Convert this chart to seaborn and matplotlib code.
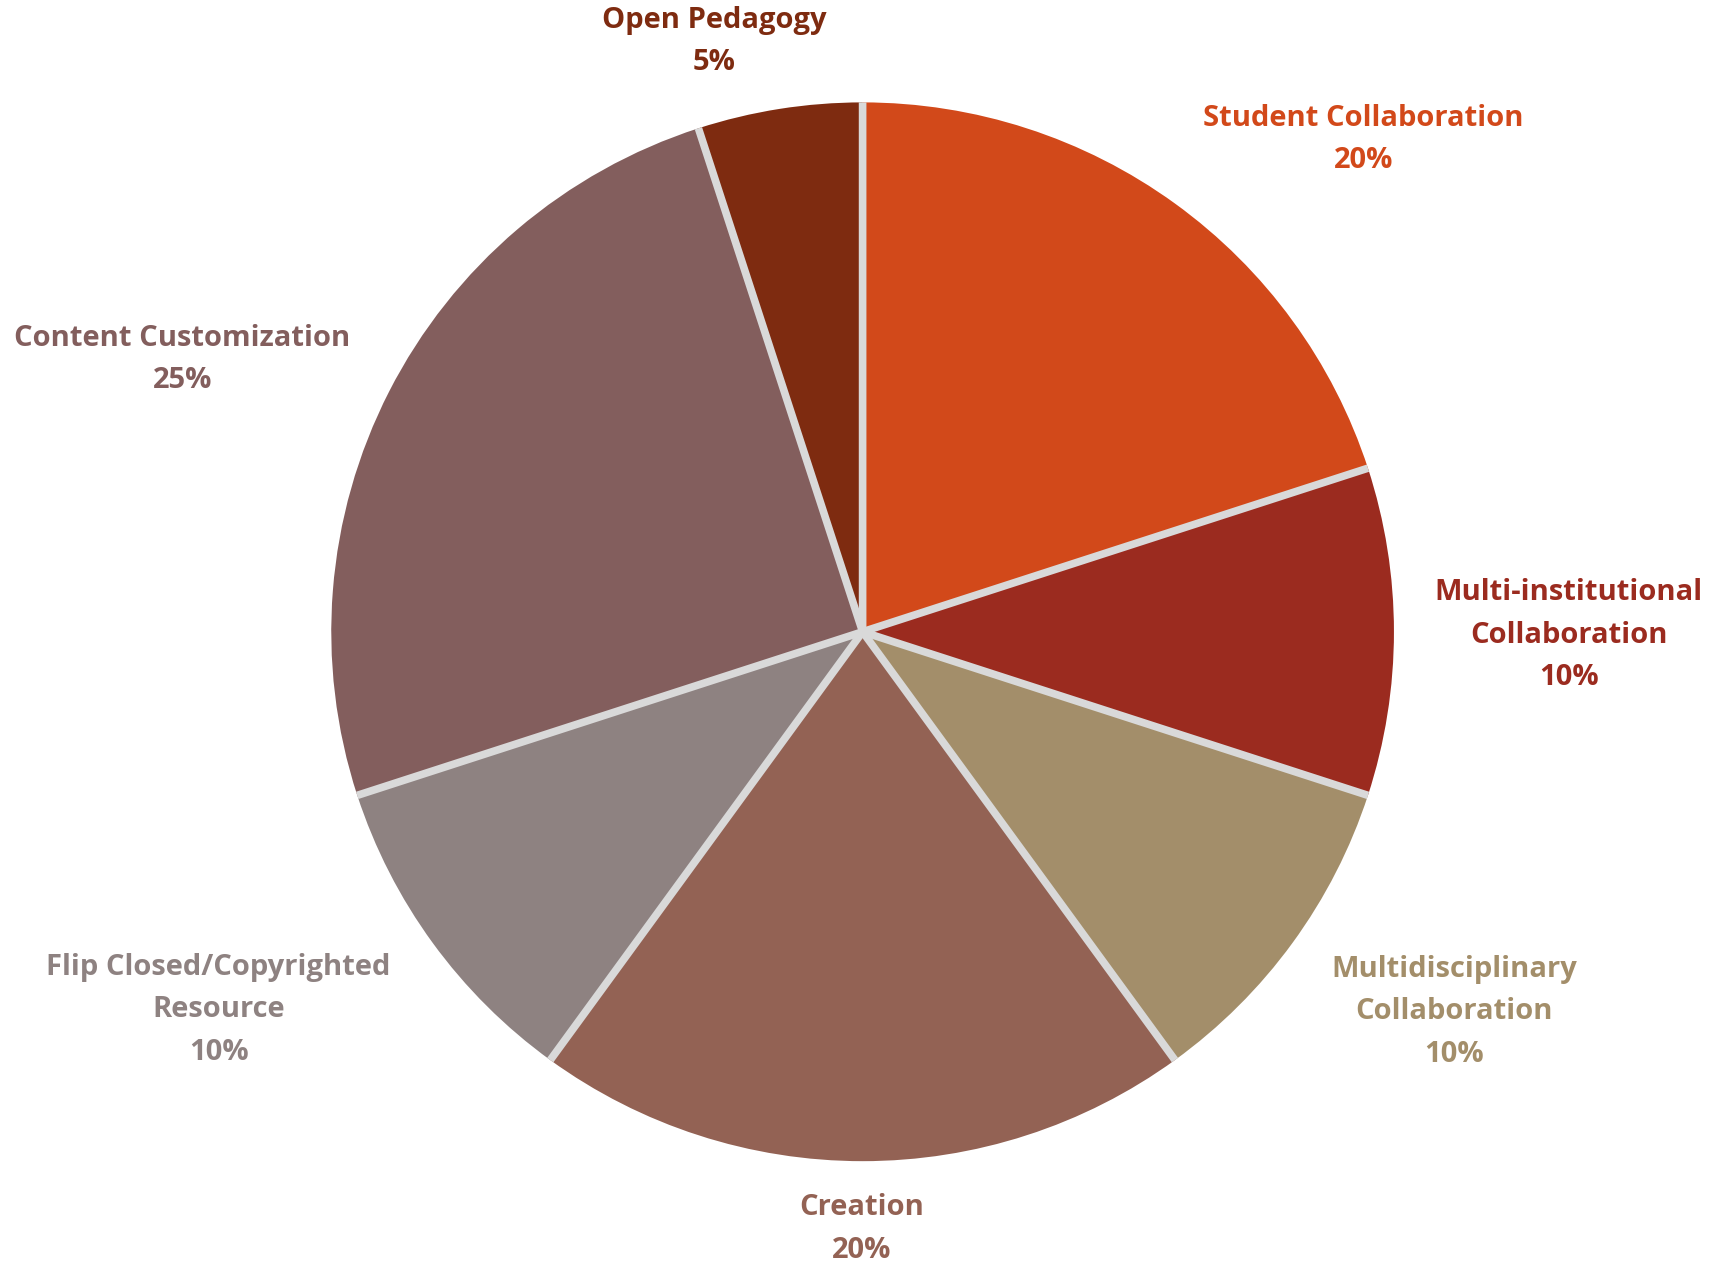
import matplotlib.pyplot as plt
import seaborn as sns
import numpy as np

# slices, clockwise from 12 o'clock
categories = ["Student Collaboration", "Multi-institutional\nCollaboration",
              "Multidisciplinary\nCollaboration", "Creation",
              "Flip Closed/Copyrighted\nResource", "Content Customization",
              "Open Pedagogy"]
shares = [20, 10, 10, 20, 10, 25, 5]
colors = ["#D2491A", "#9B2B1F", "#A38E6A", "#936254",
          "#8E8281", "#835E5D", "#7E2B10"]
# label centres, in the same pixel space as the pie (y measured from top)
label_x = [1247, 1435, 1330, 788, 200, 167, 653]
label_y = [128, 583, 929, 1128, 927, 330, 38]

sns.set_theme(style="white")
plt.rcParams['font.family'] = ['Open Sans', 'DejaVu Sans']

W, H = 1565, 1165
cx, cy, r = 789, H - 580, 486
fig = plt.figure(figsize=(17.11, 12.69), dpi=100)
ax = fig.add_axes([0, 0, 1, 1])

wedges, _ = ax.pie(shares, colors=colors, startangle=90, counterclock=False,
                   center=(cx, cy), radius=r,
                   wedgeprops=dict(linewidth=0))
# light grey separators between slices only (no outer rim)
for w in wedges:
    a = np.deg2rad(w.theta1)
    ax.plot([cx, cx + r * np.cos(a)], [cy, cy + r * np.sin(a)],
            color="#D9D9D9", lw=5.5, solid_capstyle='butt')

ax.set_xlim(0, W)
ax.set_ylim(0, H)
ax.set_aspect('auto')
ax.axis('off')

for name, val, c, x, y in zip(categories, shares, colors, label_x, label_y):
    ax.text(x, H - y, f"{name}\n{val}%", ha='center', va='center',
            color=c, fontsize=21, fontweight='bold', linespacing=1.62)

fig.savefig("out.png", dpi=100, facecolor="white")
